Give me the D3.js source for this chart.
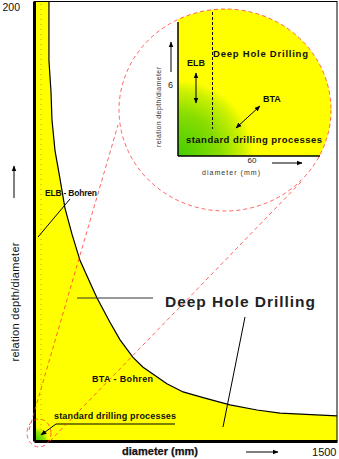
<!DOCTYPE html>
<html><head><meta charset="utf-8">
<script src="https://cdn.jsdelivr.net/npm/d3@7"></script>
<style>html,body{margin:0;padding:0;background:#fff;overflow:hidden}svg{display:block;font-family:"Liberation Sans",Arial,sans-serif}</style>
</head><body>
<svg id="c" width="339" height="459"></svg>
<script>
// ---- data ----
const diameters = [0, 74, 74, 84, 89, 104, 129, 153, 188, 228, 277, 312, 376, 426, 490, 540, 658, 738, 846, 970, 1104, 1218, 1500];
const ratios    = [200, 200, 173, 159, 146, 132, 119, 106, 94, 82, 72, 65, 54, 46, 38, 33.5, 26, 22.3, 19.5, 16.4, 14.1, 12.7, 11.4];
const xTickLabels = ["1500"];
const yTickLabels = ["200"];
const insetXTicks = [60];
const insetYTicks = [6];
const insetElbDiameter = [28];

const svg = d3.select("#c");
const W = 339, H = 459;
const x = d3.scaleLinear([0, 1500], [34, 337]);
const y = d3.scaleLinear([0, 200], [441, 1]);
const pts = diameters.map((d, i) => ({d, r: ratios[i]}));

const defs = svg.append("defs");
function marker(id, orient){
  defs.append("marker").attr("id", id).attr("viewBox","0 0 10 10").attr("refX",9).attr("refY",5)
    .attr("markerWidth",6).attr("markerHeight",6).attr("orient",orient)
    .append("path").attr("d","M0,1 L10,5 L0,9 Z").attr("fill","#000");
}
marker("ah","auto"); marker("ahs","auto-start-reverse");
const g1 = defs.append("radialGradient").attr("id","gMain").attr("cx",35).attr("cy",441).attr("r",16).attr("gradientUnits","userSpaceOnUse");
g1.append("stop").attr("offset",0).attr("stop-color","#33cc00");
g1.append("stop").attr("offset",0.6).attr("stop-color","#99e600");
g1.append("stop").attr("offset",1).attr("stop-color","#ffff00").attr("stop-opacity",0);

// ---- main yellow area ----
svg.append("path").datum(pts)
  .attr("d", d3.area().x(p => x(p.d)).y0(y(0)).y1(p => y(p.r)))
  .attr("fill", "#ffff00");
svg.append("rect").attr("x",35).attr("y",422).attr("width",18).attr("height",19).attr("fill","url(#gMain)");
// dotted line inside strip
svg.append("line").attr("x1",41).attr("x2",41).attr("y1",4).attr("y2",438)
  .attr("stroke","#b5aa00").attr("stroke-width",1).attr("stroke-dasharray","1,4");
// curve
svg.append("path").datum(pts.slice(1))
  .attr("d", d3.line().x(p => x(p.d)).y(p => y(p.r)))
  .attr("fill","none").attr("stroke","#000").attr("stroke-width",1.2);

// frame
svg.append("line").attr("x1",34).attr("x2",337).attr("y1",1.5).attr("y2",1.5).attr("stroke","#000").attr("stroke-width",1);
svg.append("line").attr("x1",337).attr("x2",337).attr("y1",1).attr("y2",441).attr("stroke","#000").attr("stroke-width",1);
// axes
const yAx = svg.append("g").attr("transform","translate(34,0)")
  .call(d3.axisLeft(y).tickValues([200]).tickSize(0).tickPadding(14).tickFormat((d,i)=>yTickLabels[i]));
yAx.select(".domain").attr("stroke","#000").attr("stroke-width",3);
yAx.selectAll("text").attr("dy","9").attr("font-size",10.5).attr("fill","#111").attr("font-family","Liberation Sans, Arial, sans-serif");
const xAx = svg.append("g").attr("transform","translate(0,441)")
  .call(d3.axisBottom(x).tickValues([1500]).tickSize(0).tickPadding(5).tickFormat((d,i)=>xTickLabels[i]));
xAx.select(".domain").attr("stroke","#000").attr("stroke-width",3);
xAx.selectAll("text").attr("text-anchor","end").attr("dx",-1).attr("dy","0.9em").attr("font-size",11).attr("fill","#111").attr("font-family","Liberation Sans, Arial, sans-serif");

// axis titles
svg.append("text").attr("x",122).attr("y",455).attr("font-size",11).attr("fill","#111")
  .attr("textLength",76).attr("lengthAdjust","spacing").attr("font-weight","600").attr("stroke","#111").attr("stroke-width",0.25).text("diameter  (mm)");
svg.append("line").attr("x1",246).attr("x2",278).attr("y1",452).attr("y2",452).attr("stroke","#000").attr("marker-end","url(#ah)");
svg.append("text").attr("transform","translate(19,302) rotate(-90)").attr("text-anchor","middle")
  .attr("font-size",11).attr("fill","#111").attr("textLength",119).attr("lengthAdjust","spacing").text("relation depth/diameter");
svg.append("line").attr("x1",14).attr("x2",14).attr("y1",198).attr("y2",166).attr("stroke","#000").attr("marker-end","url(#ah)");

// labels main
svg.append("text").attr("x",45).attr("y",196).attr("font-size",8.5).attr("font-weight","bold").attr("fill","#111")
  .attr("textLength",52).attr("lengthAdjust","spacing").text("ELB - Bohren");
svg.append("line").attr("x1",38).attr("y1",237).attr("x2",70).attr("y2",199).attr("stroke","#000");
svg.append("text").attr("x",92).attr("y",382).attr("font-size",9).attr("font-weight","bold").attr("fill","#111")
  .attr("textLength",61).attr("lengthAdjust","spacing").text("BTA - Bohren");
svg.append("line").attr("x1",77).attr("y1",298).attr("x2",153).attr("y2",298).attr("stroke","#333");
svg.append("text").attr("x",165).attr("y",307).attr("font-size",15.5).attr("font-weight","bold").attr("fill","#222")
  .attr("textLength",150).attr("lengthAdjust","spacing").text("Deep  Hole  Drilling");
svg.append("line").attr("x1",245).attr("y1",317).attr("x2",223).attr("y2",427).attr("stroke","#000");
svg.append("text").attr("x",54).attr("y",419).attr("font-size",9).attr("font-weight","bold").attr("fill","#111")
  .attr("textLength",122).attr("lengthAdjust","spacing").text("standard drilling processes");
svg.append("path").attr("d","M175,424 L56,424 L41,435").attr("fill","none").attr("stroke","#000").attr("marker-end","url(#ah)");

// ---- inset ----
const cx = 225, cy = 110, rx = 106, ry = 101;
const ix = d3.scaleLinear([0, 60], [178, 252]);
const iy = d3.scaleLinear([0, 6], [156, 85]);
defs.append("clipPath").attr("id","ic").append("rect").attr("x",ix(0)).attr("y",0).attr("width",W).attr("height",iy(0));
const g2 = defs.append("radialGradient").attr("id","gIn").attr("cx",ix(0)).attr("cy",iy(0)).attr("r",76).attr("gradientUnits","userSpaceOnUse");
g2.append("stop").attr("offset",0).attr("stop-color","#44cc00");
g2.append("stop").attr("offset",0.55).attr("stop-color","#88dd00");
g2.append("stop").attr("offset",0.85).attr("stop-color","#ccf000");
g2.append("stop").attr("offset",1).attr("stop-color","#ffff00");
const inset = svg.append("g");
inset.append("ellipse").attr("cx",cx).attr("cy",cy).attr("rx",rx).attr("ry",ry).attr("fill","#fff");
const ig = inset.append("g").attr("clip-path","url(#ic)");
ig.append("ellipse").attr("cx",cx).attr("cy",cy).attr("rx",rx).attr("ry",ry).attr("fill","#ffff00");
ig.append("circle").attr("cx",ix(0)).attr("cy",iy(0)).attr("r",76).attr("fill","url(#gIn)");
// inset axes
inset.append("line").attr("x1",ix(0)).attr("x2",ix(0)).attr("y1",22).attr("y2",iy(0)).attr("stroke","#000").attr("stroke-width",1.5);
inset.append("line").attr("x1",ix(0)).attr("x2",320).attr("y1",iy(0)).attr("y2",iy(0)).attr("stroke","#000").attr("stroke-width",1.5);
inset.append("line").attr("x1",ix(insetElbDiameter[0])).attr("x2",ix(insetElbDiameter[0])).attr("y1",12).attr("y2",129)
  .attr("stroke","#000").attr("stroke-dasharray","3,2");
inset.selectAll(".ixt").data(insetXTicks).join("text").attr("x",d=>ix(d)).attr("y",163).attr("text-anchor","middle")
  .attr("font-size",8).attr("fill","#222").text(d=>d);
inset.selectAll(".iyt").data(insetYTicks).join("text").attr("x",173).attr("y",d=>iy(d)+3).attr("text-anchor","end")
  .attr("font-size",9).attr("fill","#222").text(d=>d);
inset.append("text").attr("x",202).attr("y",175).attr("font-size",7).attr("fill","#333")
  .attr("textLength",58).attr("lengthAdjust","spacing").text("diameter (mm)");
inset.append("text").attr("transform","translate(161,107) rotate(-90)").attr("text-anchor","middle")
  .attr("font-size",7).attr("fill","#333").attr("textLength",80).attr("lengthAdjust","spacing").text("relation depth/diameter");
inset.append("line").attr("x1",171).attr("x2",171).attr("y1",72).attr("y2",42).attr("stroke","#000").attr("marker-end","url(#ah)");
inset.append("line").attr("x1",272).attr("x2",302).attr("y1",163).attr("y2",163).attr("stroke","#000").attr("marker-end","url(#ah)");
inset.append("line").attr("x1",196).attr("x2",196).attr("y1",73).attr("y2",103).attr("stroke","#000")
  .attr("marker-start","url(#ahs)").attr("marker-end","url(#ah)");
inset.append("line").attr("x1",236).attr("y1",128).attr("x2",260).attr("y2",106).attr("stroke","#000")
  .attr("marker-start","url(#ahs)").attr("marker-end","url(#ah)");
inset.append("text").attr("x",213).attr("y",57).attr("font-size",9.5).attr("font-weight","bold").attr("fill","#111")
  .attr("textLength",95).attr("lengthAdjust","spacing").text("Deep Hole Drilling");
inset.append("text").attr("x",187).attr("y",66).attr("font-size",9).attr("font-weight","bold").attr("fill","#111").text("ELB");
inset.append("text").attr("x",263).attr("y",102).attr("font-size",9).attr("font-weight","bold").attr("fill","#111").text("BTA");
inset.append("text").attr("x",186).attr("y",143).attr("font-size",9.5).attr("font-weight","bold").attr("fill","#111")
  .attr("textLength",136).attr("lengthAdjust","spacing").text("standard drilling processes");

// red dashed zoom outlines
const red = {stroke:"#ff3030", "stroke-opacity":0.75, "stroke-width":1, "stroke-dasharray":"4,3", fill:"none"};
function st(sel){ Object.entries(red).forEach(([k,v])=>sel.attr(k,v)); return sel; }
st(svg.append("ellipse").attr("cx",cx).attr("cy",cy).attr("rx",rx).attr("ry",ry));
st(svg.append("ellipse").attr("cx",39).attr("cy",433).attr("rx",12).attr("ry",14));
st(svg.append("line").attr("x1",29).attr("y1",430).attr("x2",118).attr("y2",125));
st(svg.append("line").attr("x1",50).attr("y1",441).attr("x2",302).attr("y2",181));
</script>
</body></html>
